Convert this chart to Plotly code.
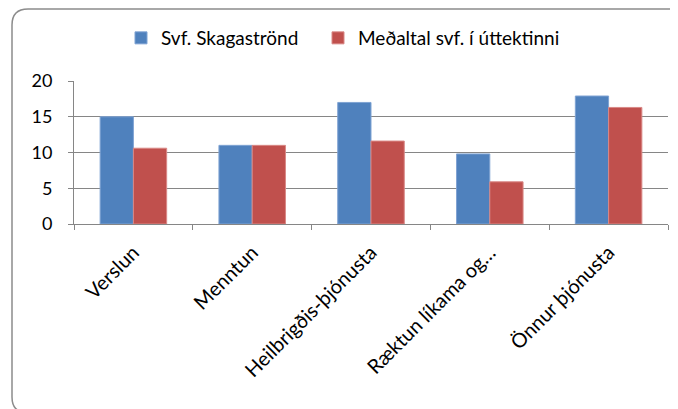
import plotly.graph_objects as go

categories = ["Verslun", "Menntun", "Heilbrigðis-þjónusta", "Ræktun líkama og…", "Önnur þjónusta"]
skagastrond = [15, 11, 17, 9.8, 17.9]
medaltal = [10.6, 11, 11.6, 5.9, 16.3]
series_names = ["Svf. Skagaströnd", "Meðaltal svf. í úttektinni"]
y_ticks = [0, 5, 10, 15, 20]

W, H = 678, 409
OFF = 8  # page body margin
# target plot area in screen pixels: x 74..668, y 81..224
L, T = 74 - OFF, 81 - OFF
R = W - (668 - OFF)
B = H - (224 - OFF)
pw, ph = W - L - R, H - T - B

def px(x):
    return (x - OFF - L) / pw

def py(y):
    return (H - B - (y - OFF)) / ph

FONT = "Lato, Calibri, Carlito, sans-serif"

fig = go.Figure()
fig.add_trace(go.Bar(x=categories, y=skagastrond, name=series_names[0], legend="legend",
                     marker=dict(color="#4F81BD", line=dict(color="#7FA3D3", width=1))))
fig.add_trace(go.Bar(x=categories, y=medaltal, name=series_names[1], legend="legend2",
                     marker=dict(color="#C0504D", line=dict(color="#D98886", width=1))))

# rounded chart border (screen pixel coords)
x0, y0, x1, y1, r = 12, 9, 685, 413, 16
path = (f"M {px(x0)},{py(y0 + r)} L {px(x0)},{py(y1 - r)} "
        f"Q {px(x0)},{py(y1)} {px(x0 + r)},{py(y1)} L {px(x1 - r)},{py(y1)} "
        f"Q {px(x1)},{py(y1)} {px(x1)},{py(y1 - r)} L {px(x1)},{py(y0 + r)} "
        f"Q {px(x1)},{py(y0)} {px(x1 - r)},{py(y0)} L {px(x0 + r)},{py(y0)} "
        f"Q {px(x0)},{py(y0)} {px(x0)},{py(y0 + r)} Z")
fig.add_shape(type="path", path=path, xref="paper", yref="paper",
              line=dict(color="#8C8C8C", width=1.5), layer="below")

leg_common = dict(orientation="h", yanchor="middle", xanchor="left",
                  font=dict(family=FONT, size=19), itemwidth=30,
                  bgcolor="rgba(0,0,0,0)")
fig.update_layout(
    width=W, height=H,
    margin=dict(l=L, r=R, t=T, b=B, autoexpand=False),
    paper_bgcolor="white", plot_bgcolor="white",
    barmode="group", bargap=0.44, bargroupgap=0,
    font=dict(family=FONT, size=16, color="black"),
    showlegend=True,
    legend=dict(x=px(121), y=py(38), **leg_common),
    legend2=dict(x=px(318), y=py(38), **leg_common),
)
fig.update_xaxes(tickangle=-45, tickson="boundaries", ticks="outside", ticklen=5,
                 tickcolor="#868686", showline=True, linecolor="#868686", linewidth=1,
                 ticklabelstandoff=8,
                 tickfont=dict(family=FONT, size=20), showgrid=False, automargin=False)
fig.update_yaxes(range=[0, 20], tickvals=y_ticks, ticks="outside", ticklen=5,
                 tickcolor="#868686", showline=True, linecolor="#868686", linewidth=1,
                 gridcolor="#868686", gridwidth=1, zeroline=False, automargin=False,
                 ticklabelstandoff=12,
                 tickfont=dict(family=FONT, size=18))

fig.write_html("out.html")
